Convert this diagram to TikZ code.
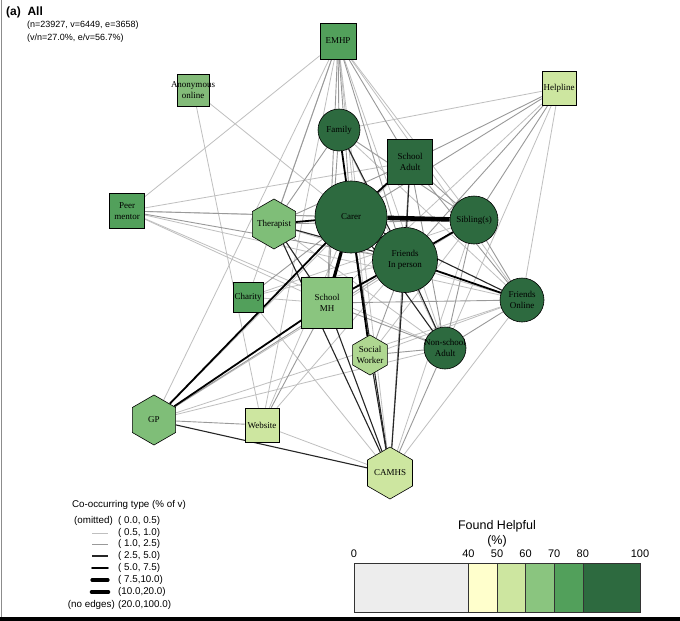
\documentclass[tikz,border=0pt]{standalone}
\usepackage{fontspec}
\setmainfont{Liberation Sans}
\newfontfamily\netfont{Liberation Serif}
\usetikzlibrary{shapes.geometric,backgrounds}
\definecolor{hnone}{HTML}{EDEDED}
\definecolor{hforty}{HTML}{FFFFCC}
\definecolor{hfifty}{HTML}{CDE6A0}
\definecolor{hsixty}{HTML}{8AC57F}
\definecolor{hseventy}{HTML}{52A05B}
\definecolor{heighty}{HTML}{2D6A3F}
\tikzset{
  vtx/.style={draw=black, line width=0.6pt, inner sep=-14pt, align=center,
    font=\netfont\fontsize{9}{10.5}\selectfont, text=black},
  sq/.style={vtx, rectangle, minimum size=#1},
  circ/.style={vtx, circle, minimum size=#1},
  hex/.style={vtx, regular polygon, regular polygon sides=6, shape border rotate=30, minimum size=#1},
  wlight/.style={draw=black!25, line width=0.8pt},
  wgray/.style={draw=black!40, line width=0.9pt},
  wdark/.style={draw=black!85, line width=1.1pt},
  wblack/.style={draw=black, line width=1.8pt},
  wthick/.style={draw=black, line width=3.2pt},
  wheavy/.style={draw=black, line width=4.6pt},
  lgd/.style={font=\fontsize{9.8}{11}\selectfont, inner sep=0pt}
}
\begin{document}
\begin{tikzpicture}[x=1pt,y=-1pt]
  \useasboundingbox (0,0) rectangle (680,621);
  \draw[black!45, line width=0.8pt] (1,0) -- (1,617);
  \fill[black] (0,617) rectangle (680,621);
  % title
  \node[anchor=west, font=\bfseries\fontsize{12}{14}\selectfont, inner sep=0pt] (ttl) at (6,12) {(a)\ \ All};
  \node[anchor=west, font=\fontsize{9}{11}\selectfont, inner sep=0pt] (stats) at (27,25) {(n=23927, v=6449, e=3658)};
  \node[anchor=west, font=\fontsize{9}{11}\selectfont, inner sep=0pt] (ratio) at (27,38) {(v/n=27.0\%, e/v=56.7\%)};
  % vertices
  \draw
    (338,41) node[sq=36, fill=hseventy] (emhp){EMHP}
    (193,90) node[sq=32, fill=hsixty!95!black] (anon){Anonymous\\online}
    (559,88) node[sq=34, fill=hfifty] (help){Helpline}
    (339,130) node[circ=42, fill=heighty] (fam){Family}
    (410,162) node[sq=45, fill=heighty] (sadult){School\\Adult}
    (351,217) node[circ=72, fill=heighty] (carer){Carer}
    (274,224) node[hex=50, fill=hsixty!80!hseventy] (ther){Therapist}
    (127,211) node[sq=35, fill=hseventy] (peer){Peer\\mentor}
    (248,297) node[sq=30, fill=hseventy] (char){Charity}
    (327,303) node[sq=51, fill=hsixty] (smh){School\\MH}
    (405,260) node[circ=65, fill=heighty] (fip){Friends\\In person}
    (474,220) node[circ=48, fill=heighty] (sib){Sibling(s)}
    (522,300) node[circ=44, fill=heighty] (fon){Friends\\Online}
    (445,348) node[circ=42, fill=heighty] (nsa){Non-school\\Adult}
    (370,355) node[hex=40, fill=hsixty!45!hfifty] (sw){Social\\Worker}
    (154,420) node[hex=50, fill=hsixty!80!hseventy] (gp){GP}
    (262,425) node[sq=34, fill=hfifty] (web){Website}
    (390,473) node[hex=52, fill=hfifty] (camhs){CAMHS};
  \begin{scope}[on background layer]
    \fill[white] (0,0) rectangle (680,617);
    \begin{scope}[wlight]
      \draw (emhp) to (sib);
      \draw (emhp) to (fon);
      \draw (emhp) to (nsa);
      \draw (emhp) to (char);
      \draw (emhp) to (gp);
      \draw (emhp) to (camhs);
      \draw (emhp) to (sw);
      \draw (emhp) to (web);
      \draw (emhp) to (peer);
      \draw (anon) to (carer);
      \draw (anon) to (web);
      \draw (help) to (fam);
      \draw (help) to (smh);
      \draw (help) to (nsa);
      \draw (help) to (fon);
      \draw (peer) to (sib);
      \draw (peer) to (smh);
      \draw (peer) to (fon);
      \draw (peer) to (nsa);
      \draw (peer) to (sadult);
      \draw (gp) to (sib);
      \draw (gp) to (fon);
      \draw (gp) to (nsa);
      \draw (gp) to (sadult);
      \draw (web) to (carer);
      \draw (web) to (fip);
      \draw (web) to (camhs);
      \draw (camhs) to (fon);
      \draw (camhs) to (sib);
      \draw (char) to (fip);
      \draw (char) to (sib);
      \draw (char) to (smh);
      \draw (char) to (camhs);
      \draw (ther) to (fon);
      \draw (ther) to (nsa);
      \draw (sw) to (sib);
      \draw (sw) to (fon);
      \draw (fam) to (fon);
      \draw (fam) to (nsa);
    \end{scope}
    \begin{scope}[wgray]
      \draw (emhp) to (fam);
      \draw (emhp) to (carer);
      \draw (emhp) to (sadult);
      \draw (emhp) to (fip);
      \draw (emhp) to (ther);
      \draw (emhp) to (smh);
      \draw (help) to (carer);
      \draw (help) to (fip);
      \draw (help) to (sadult);
      \draw (help) to (sib);
      \draw (peer) to (carer);
      \draw (peer) to (fip);
      \draw (gp) to (fip);
      \draw (gp) to (web);
      \draw (web) to (smh);
      \draw (camhs) to (nsa);
      \draw (camhs) to (sadult);
      \draw (char) to (carer);
      \draw (ther) to (sib);
      \draw (ther) to (sadult);
      \draw (sw) to (fip);
      \draw (sw) to (nsa);
      \draw (smh) to (sib);
      \draw (smh) to (fon);
      \draw (smh) to (nsa);
      \draw (sadult) to (sib);
      \draw (sadult) to (fon);
      \draw (sadult) to (nsa);
      \draw (fam) to (sib);
      \draw (fam) to (smh);
      \draw (fam) to (ther);
      \draw (sib) to (nsa);
      \draw (sib) to (fon);
      \draw (fon) to (nsa);
    \end{scope}
    \begin{scope}[wdark]
      \draw (fam) to (fip);
      \draw (sadult) to (fip);
      \draw (ther) to (smh);
      \draw (ther) to (fip);
      \draw (ther) to (camhs);
      \draw (smh) to (camhs);
      \draw (carer) to (camhs);
      \draw (fip) to (camhs);
      \draw (sw) to (camhs);
      \draw (fip) to (nsa);
      \draw (gp) to (camhs);
      \draw (carer) to (fon);
      \draw (carer) to (nsa);
    \end{scope}
    \begin{scope}[wblack]
      \draw (carer) to (fam);
      \draw (sadult) to (carer);
      \draw (carer) to (ther);
      \draw (carer) to (gp);
      \draw (smh) to (fip);
      \draw (smh) to (gp);
      \draw (carer) to (sw);
      \draw (fip) to (fon);
      \draw (fip) to (sib);
    \end{scope}
    \begin{scope}[wthick]
      \draw (carer) to (fip);
      \draw (carer) to (smh);
    \end{scope}
    \begin{scope}[wheavy]
      \draw (carer) to (sib);
    \end{scope}
  \end{scope}
  % edge legend
  \node[lgd] (lgtitle) at (129,505) {Co-occurring type (\% of v)};
  \node[lgd, anchor=east] (omit) at (113,521) {(omitted)};
  \node[lgd, anchor=west] (r1) at (118,521) {( 0.0, 0.5)};
  \node[lgd, anchor=west] (r2) at (118,533) {( 0.5, 1.0)};
  \node[lgd, anchor=west] (r3) at (118,544) {( 1.0, 2.5)};
  \node[lgd, anchor=west] (r4) at (118,556) {( 2.5, 5.0)};
  \node[lgd, anchor=west] (r5) at (118,568) {( 5.0, 7.5)};
  \node[lgd, anchor=west] (r6) at (118,580) {( 7.5,10.0)};
  \node[lgd, anchor=west] (r7) at (118,592) {(10.0,20.0)};
  \node[lgd, anchor=east] (noedge) at (115,605) {(no edges)};
  \node[lgd, anchor=west] (r8) at (118,605) {(20.0,100.0)};
  \draw[wlight] (92,533) -- (108,533);
  \draw[wgray] (92,544) -- (108,544);
  \draw[wdark] (92,556) -- (108,556);
  \draw[wblack, line cap=round] (92,568) -- (108,568);
  \draw[wthick, line cap=round] (92,580) -- (108,580);
  \draw[wheavy, line cap=round] (92,592) -- (108,592);
  % colour key
  \node[font=\fontsize{12.5}{14}\selectfont, inner sep=0pt] (keyttl) at (497,526) {Found Helpful};
  \node[font=\fontsize{12.5}{14}\selectfont, inner sep=0pt] (keyunit) at (497,541) {(\%)};
  \foreach \lo/\hi/\col in {0/40/hnone, 40/50/hforty, 50/60/hfifty, 60/70/hsixty, 70/80/hseventy, 80/100/heighty}
    \filldraw[fill=\col, draw=black!80, line width=0.6pt] (354+2.86*\lo,563) rectangle (354+2.86*\hi,612);
  \foreach \v in {0,40,50,60,70,80,100}
    \node[font=\fontsize{11}{12}\selectfont, inner sep=0pt] (tick\v) at (354+2.86*\v,554) {\v};
\end{tikzpicture}
\end{document}
